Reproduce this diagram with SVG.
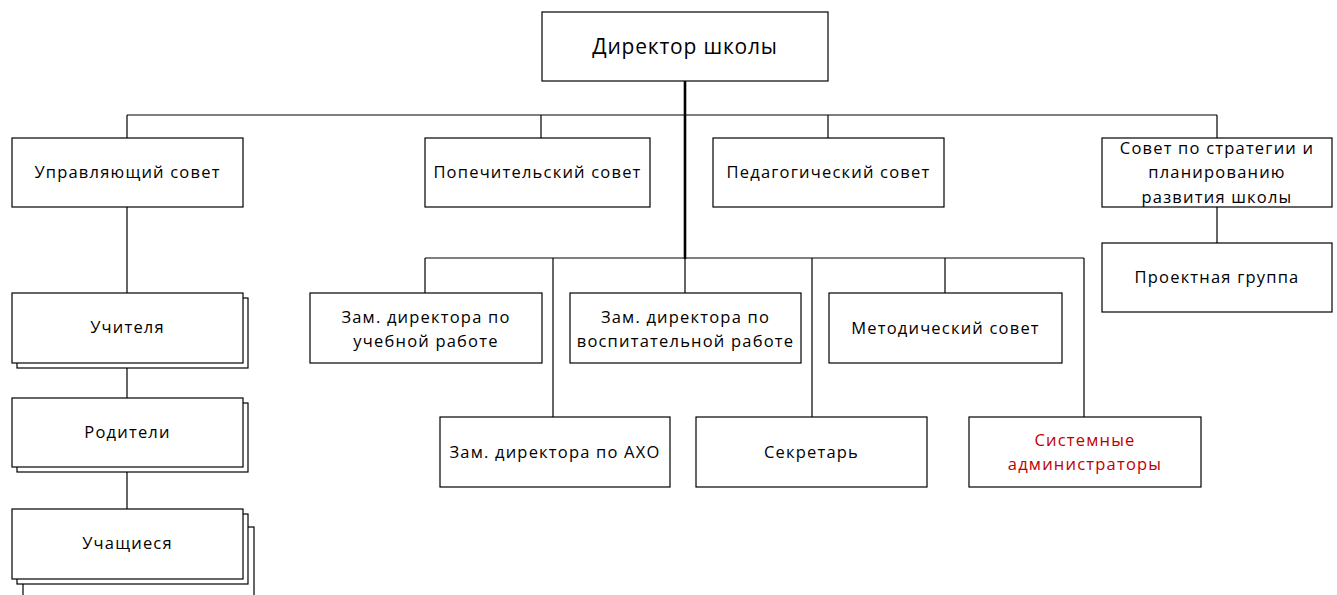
<svg xmlns="http://www.w3.org/2000/svg" width="1337" height="595" viewBox="0 0 1337 595">
<style>
.b{fill:#fff;stroke:#000;stroke-width:1.2}
.t{font-family:"Open Sans",sans-serif;font-size:16.5px;fill:#000;text-anchor:middle;letter-spacing:1.2px}
.c{fill:none;stroke:#000;stroke-width:1.2}
.k{fill:none;stroke:#000;stroke-width:2.6}
</style>
<rect width="1337" height="595" fill="#fff"/>
<g id="connectors">
<path class="c" d="M127,115H1217M127,115V138M541,115V138M828,115V138M1217,115V138M127,207V293M127,363V398M127,467V509M1217,207V243"/>
<path class="c" d="M425,258H1084M425,258V293M685,258V293M945,258V293M553,258V417M812,258V417M1084,258V417"/>
<path class="k" d="M685,81V259"/>
</g>
<g id="director"><rect class="b" x="542" y="12" width="286" height="69"/><text class="t" x="685" y="54" style="font-size:21px;letter-spacing:0.8px">Директор школы</text></g>
<g id="upr"><rect class="b" x="12" y="138" width="231" height="69"/><text class="t" x="127.5" y="178">Управляющий совет</text></g>
<g id="pop"><rect class="b" x="425" y="138" width="225" height="69"/><text class="t" x="537.5" y="178">Попечительский совет</text></g>
<g id="ped"><rect class="b" x="713" y="138" width="231" height="69"/><text class="t" x="828.5" y="178">Педагогический совет</text></g>
<g id="strat"><rect class="b" x="1102" y="138" width="230" height="69"/><text class="t" x="1217" y="154">Совет по стратегии и</text><text class="t" x="1217" y="178">планированию</text><text class="t" x="1217" y="203">развития школы</text></g>
<g id="proj"><rect class="b" x="1102" y="243" width="230" height="69"/><text class="t" x="1217" y="283">Проектная группа</text></g>
<g id="teach"><rect class="b" x="17" y="298" width="231" height="70"/><rect class="b" x="12" y="293" width="231" height="70"/><text class="t" x="127.5" y="333">Учителя</text></g>
<g id="par"><rect class="b" x="17" y="403" width="231" height="69"/><rect class="b" x="12" y="398" width="231" height="69"/><text class="t" x="127.5" y="438">Родители</text></g>
<g id="stud"><rect class="b" x="23" y="527" width="231" height="75"/><rect class="b" x="17" y="514" width="231" height="70"/><rect class="b" x="12" y="509" width="231" height="70"/><text class="t" x="127.5" y="549">Учащиеся</text></g>
<g id="uch"><rect class="b" x="310" y="293" width="232" height="70"/><text class="t" x="426" y="323">Зам. директора по</text><text class="t" x="426" y="347">учебной работе</text></g>
<g id="vos"><rect class="b" x="570" y="293" width="231" height="70"/><text class="t" x="685.5" y="323">Зам. директора по</text><text class="t" x="685.5" y="347">воспитательной работе</text></g>
<g id="met"><rect class="b" x="829" y="293" width="233" height="70"/><text class="t" x="945.5" y="334">Методический совет</text></g>
<g id="axo"><rect class="b" x="440" y="417" width="230" height="70"/><text class="t" x="555" y="458">Зам. директора по АХО</text></g>
<g id="sec"><rect class="b" x="696" y="417" width="231" height="70"/><text class="t" x="811.5" y="458">Секретарь</text></g>
<g id="sys"><rect class="b" x="969" y="417" width="232" height="70"/><text class="t" x="1085" y="446" style="fill:#c00000">Системные</text><text class="t" x="1085" y="470" style="fill:#c00000">администраторы</text></g>
</svg>
